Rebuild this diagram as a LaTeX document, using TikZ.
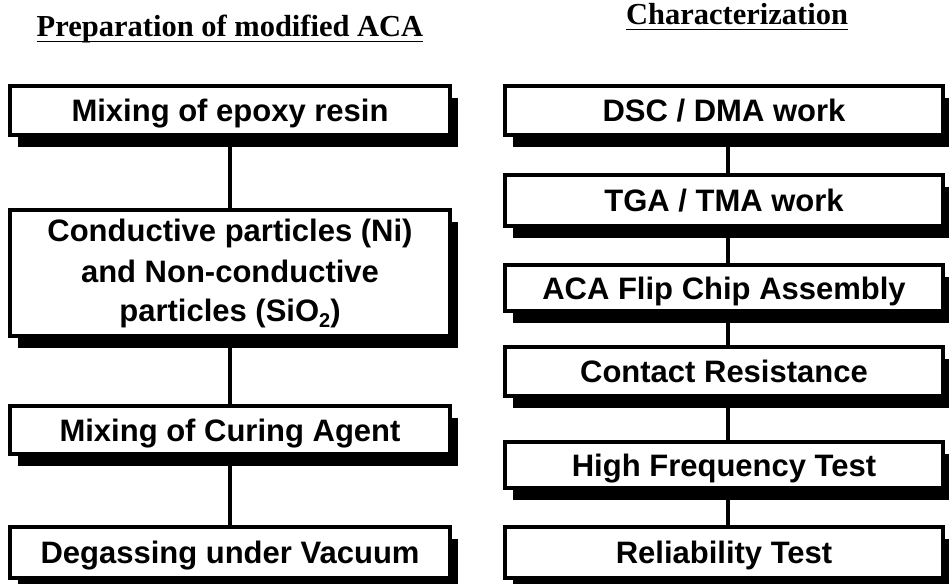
\documentclass[tikz,border=0pt]{standalone}
\usepackage{fontspec}
\setmainfont{Liberation Serif}
\newfontfamily\boxfont{Liberation Sans}
\usetikzlibrary{shadows}
\newcommand{\subtwo}{\raisebox{-6pt}{\fontsize{20}{20}\selectfont 2}}
\begin{document}
\begin{tikzpicture}[x=1pt,y=-1pt,
  stepbox/.style={draw=black, line width=4pt, fill=white, inner sep=0pt, outer sep=0pt,
    font=\boxfont\bfseries\fontsize{31}{38}\selectfont,
    drop shadow={shadow xshift=8pt, shadow yshift=-12pt, fill=black, opacity=1}},
  oneline/.style={text height=22pt, text depth=0pt},
  leftbox/.style={stepbox, minimum width=440pt},
  rightbox/.style={stepbox, oneline, minimum width=438pt},
  title/.style={font=\bfseries\fontsize{30.5}{36}\selectfont, anchor=base, inner sep=0pt},
  uline/.style={line width=1.6pt},
  link/.style={line width=4pt}]
\useasboundingbox (0,0) rectangle (949,583);

% titles
\node[title] (t1) at (230,37) {Preparation of modified ACA};
\node[title] (t2) at (737,25) {Characterization};
\draw[uline] ([yshift=-4.5pt]t1.base west) -- ([yshift=-4.5pt]t1.base east);
\draw[uline] ([yshift=-4.5pt]t2.base west) -- ([yshift=-4.5pt]t2.base east);

% connectors (behind boxes)
\coordinate (lx1) at (230,135);
\coordinate (lx2) at (230,209);
\coordinate (lx3) at (230,335);
\coordinate (lx4) at (230,406);
\coordinate (lx5) at (230,454);
\coordinate (lx6) at (230,527);
\draw[link] (lx1) -- (lx2);
\draw[link] (lx3) -- (lx4);
\draw[link] (lx5) -- (lx6);

% left column
\node[leftbox, oneline, minimum height=49pt] (l1) at (230,110.5) {Mixing of epoxy resin};
\node[leftbox, align=center, minimum height=126pt] (l2) at (230,273) {Conductive particles (Ni)\\[3pt] and Non-conductive\\[1pt] particles (SiO\subtwo)};
\node[leftbox, oneline, minimum height=48pt] (l3) at (230,430) {Mixing of Curing Agent};
\node[leftbox, oneline, minimum height=51pt] (l4) at (230,552.5) {Degassing under Vacuum};

% right column
\node[rightbox, minimum height=49pt] (r1) at (724,110.5) {DSC / DMA work};
\node[rightbox, minimum height=51pt] (r2) at (724,200.5) {TGA / TMA work};
\node[rightbox, minimum height=46pt] (r3) at (724,288) {ACA Flip Chip Assembly};
\node[rightbox, minimum height=49pt] (r4) at (724,371.5) {Contact Resistance};
\node[rightbox, minimum height=46pt] (r5) at (724,465) {High Frequency Test};
\node[rightbox, minimum height=51pt] (r6) at (724,552.5) {Reliability Test};

\foreach \a/\b in {r1/r2, r2/r3, r3/r4, r4/r5, r5/r6}
  \draw[link] ([xshift=4pt]\a.south) -- ([xshift=4pt]\b.north);
\end{tikzpicture}
\end{document}
